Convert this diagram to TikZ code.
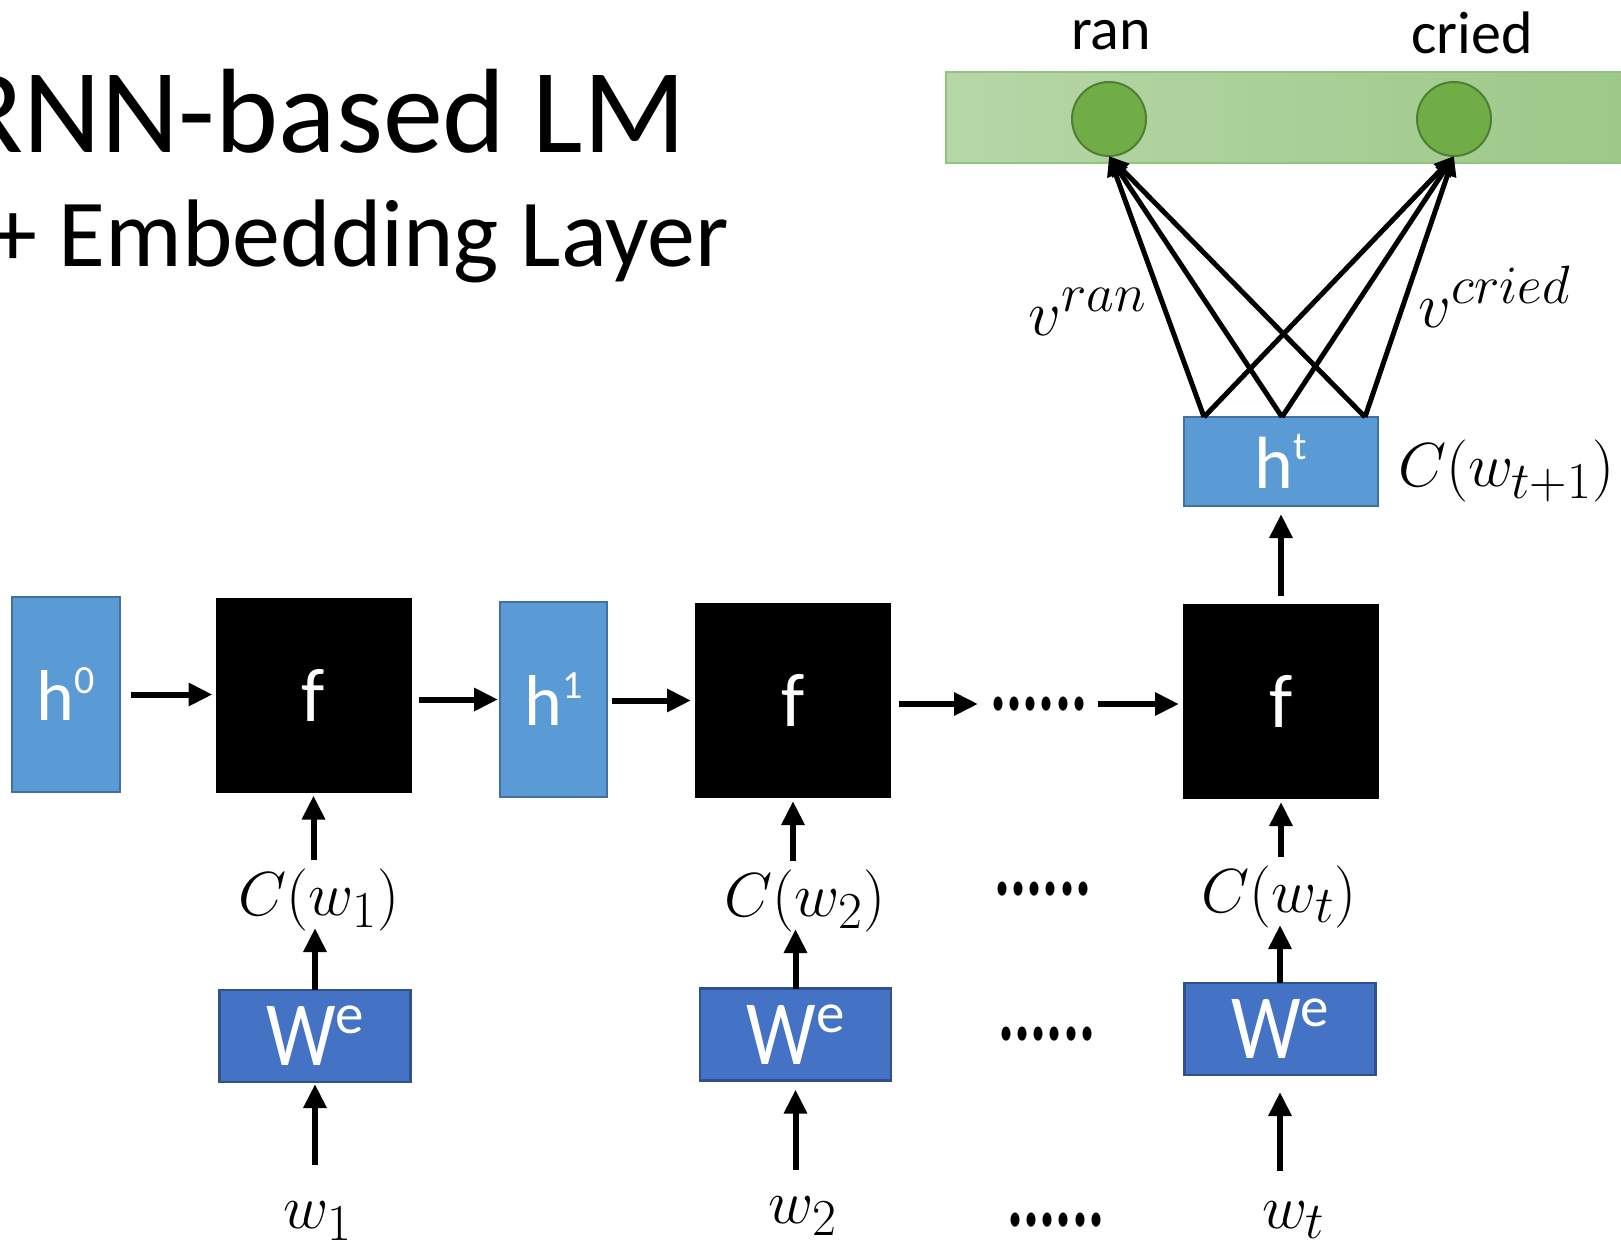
\documentclass[tikz,border=0pt]{standalone}
\usepackage{fontspec}
\setmainfont{Carlito}
\usetikzlibrary{arrows.meta}

\definecolor{hblue}{HTML}{5B9BD5}
\definecolor{hborder}{HTML}{41719C}
\definecolor{wblue}{HTML}{4472C4}
\definecolor{wborder}{HTML}{2F528F}
\definecolor{gleft}{HTML}{B6D7A8}
\definecolor{gright}{HTML}{9CC888}
\definecolor{gborder}{HTML}{93C47D}
\definecolor{dotgreen}{HTML}{70AD47}
\definecolor{dotborder}{HTML}{507E32}

% white box label with a raised index, as in h^0 or W^e
\newcommand{\boxlabel}[5]{{\fontsize{#2}{#2}\selectfont #1\raisebox{#5pt}{\fontsize{#4}{#4}\selectfont #3}}}
% math set at the largest design size, then enlarged
\newcommand{\bigmath}[2]{{\fontsize{24.88}{30}\selectfont\scalebox{#1}{$#2$}}}

\tikzset{
  every node/.style={inner sep=0pt, outer sep=0pt},
  hstate/.style={draw=hborder, line width=2pt, fill=hblue, text=white},
  fcell/.style={fill=black, text=white, minimum width=196pt, minimum height=195pt,
                font=\fontsize{76}{76}\selectfont},
  embed/.style={draw=wborder, line width=2.5pt, fill=wblue, text=white,
                minimum width=191pt, minimum height=92pt},
  unit/.style={circle, draw=dotborder, line width=2pt, fill=dotgreen, minimum size=74pt},
  flow/.style={line width=6pt, -{Triangle[length=24pt,width=22pt]}},
  fan/.style={line width=5pt, -{Triangle[length=20pt,width=17pt]}},
  mlabel/.style={anchor=base, text height=55pt, text depth=13pt},
  wlabel/.style={anchor=base, text height=60pt, text depth=14pt},
  dotrow/.style={font=\fontsize{60}{60}\selectfont\bfseries, minimum width=98pt},
  word/.style={anchor=base, font=\fontsize{60}{60}\selectfont},
}

\newcommand{\embedlabel}{\boxlabel{\scalebox{0.85}[1]{W}}{92}{e}{57}{32}}

\begin{document}
\begin{tikzpicture}[x=1pt,y=-1pt]
\useasboundingbox (0,0) rectangle (1621,1246);
\fill[white] (0,0) rectangle (1621,1246);

% heading
\node[anchor=base east, font=\fontsize{120}{120}\selectfont] (title) at (686,153) {RNN-based LM};
\node[anchor=base east, font=\fontsize{96}{96}\selectfont] (subtitle) at (729,267) {+ Embedding Layer};

% output layer
\node[draw=gborder, line width=1.5pt, left color=gleft, right color=gright,
      minimum width=690pt, minimum height=91pt] (bar) at (1291,117.5) {};
\node[unit] (ran) at (1109,119) {};
\node[unit] (cried) at (1454,119) {};
\node[word] (ranlbl) at (1111,50) {ran};
\node[word] (criedlbl) at (1472,54) {cried};

% last hidden state
\node[hstate, minimum width=194pt, minimum height=89pt] (ht) at (1281,461.5)
  {\boxlabel{h}{74}{t}{40}{29}};
\node[anchor=base west] (ctnext) at (1398,486) {\bigmath{2.5}{C(w_{t+1})}};

\coordinate (ht1) at ([xshift=20pt]ht.north west);
\coordinate (ht2) at ([xshift=1pt]ht.north);
\coordinate (ht3) at ([xshift=-13pt]ht.north east);
\foreach \p in {ht1,ht2,ht3} {
  \draw[fan] (\p) -- (ran.south);
  \draw[fan] (\p) -- (cried.south);
}
\node (vran) at (1088,312) {\bigmath{2.6}{v^{ran}}};
\node (vcried) at (1495,297) {\bigmath{2.6}{v^{cried}}};

% recurrent chain
\node[hstate, minimum width=108pt, minimum height=195pt] (h0) at (66,694.5)
  {\boxlabel{h}{72}{0}{40}{27}};
\node[fcell] (f1) at (313.5,695) {f};
\node[hstate, minimum width=107pt, minimum height=195pt] (h1) at (553.5,699.5)
  {\boxlabel{h}{72}{1}{40}{27}};
\node[fcell] (f2) at (793,700.5) {f};
\node[dotrow] (hdots) at (1039,704) {\scalebox{1}[1.6]{......}};
\node[fcell] (f3) at (1281,701.5) {f};

\draw[flow, shorten <=11pt, shorten >=3pt] (h0.east) -- (h0.east -| f1.west);
\draw[flow, shorten <=7pt, shorten >=2pt] (f1.east |- h1.west) -- (h1.west);
\draw[flow, shorten <=5pt, shorten >=4pt] (h1.east |- f2.west) -- (f2.west);
\draw[flow, shorten <=8pt, shorten >=12pt] (f2.east |- hdots.west) -- (hdots.west);
\draw[flow, shorten <=10pt, shorten >=4pt] (hdots.east) -- (hdots.east -| f3.west);
\draw[flow, shorten <=8pt, shorten >=8pt] (f3.north) -- (ht.south);

% embedded inputs
\node[mlabel] (c1) at (319,915) {\bigmath{2.5}{C(w_1)}};
\node[mlabel] (c2) at (805,916) {\bigmath{2.5}{C(w_2)}};
\node[mlabel] (c3) at (1279,912) {\bigmath{2.5}{C(w_t)}};

\node[embed] (we1) at (315,1036) {\embedlabel};
\node[embed] (we2) at (795.5,1034.5) {\embedlabel};
\node[embed] (we3) at (1280,1029) {\embedlabel};

\node[wlabel] (w1) at (318,1228) {\bigmath{2.5}{w_1}};
\node[wlabel] (w2) at (803,1223) {\bigmath{2.5}{w_2}};
\node[wlabel] (w3) at (1294,1228) {\bigmath{2.5}{w_t}};

\node[dotrow] (cdots) at (1043,889) {\scalebox{1}[1.6]{......}};
\node[dotrow] (edots) at (1047,1034) {\scalebox{1}[1.6]{......}};
\node[dotrow] (wdots) at (1056,1220) {\scalebox{1}[1.6]{......}};

\draw[flow, shorten >=3pt] (f1.south |- c1.north) -- (f1.south);
\draw[flow, shorten >=3pt] (f2.south |- c2.north) -- (f2.south);
\draw[flow, shorten >=3pt] (f3.south |- c3.north) -- (f3.south);

\draw[flow] (we1.north) -- (we1.north |- c1.south);
\draw[flow] (we2.north) -- (we2.north |- c2.south);
\draw[flow] (we3.north) -- (we3.north |- c3.south);

\draw[flow, shorten <=3pt, shorten >=2pt] (we1.south |- w1.north) -- (we1.south);
\draw[flow, shorten <=-7pt, shorten >=9pt] (we2.south |- w2.north) -- (we2.south);
\draw[flow, shorten <=-3pt, shorten >=17pt] (we3.south |- w3.north) -- (we3.south);
\end{tikzpicture}
\end{document}
